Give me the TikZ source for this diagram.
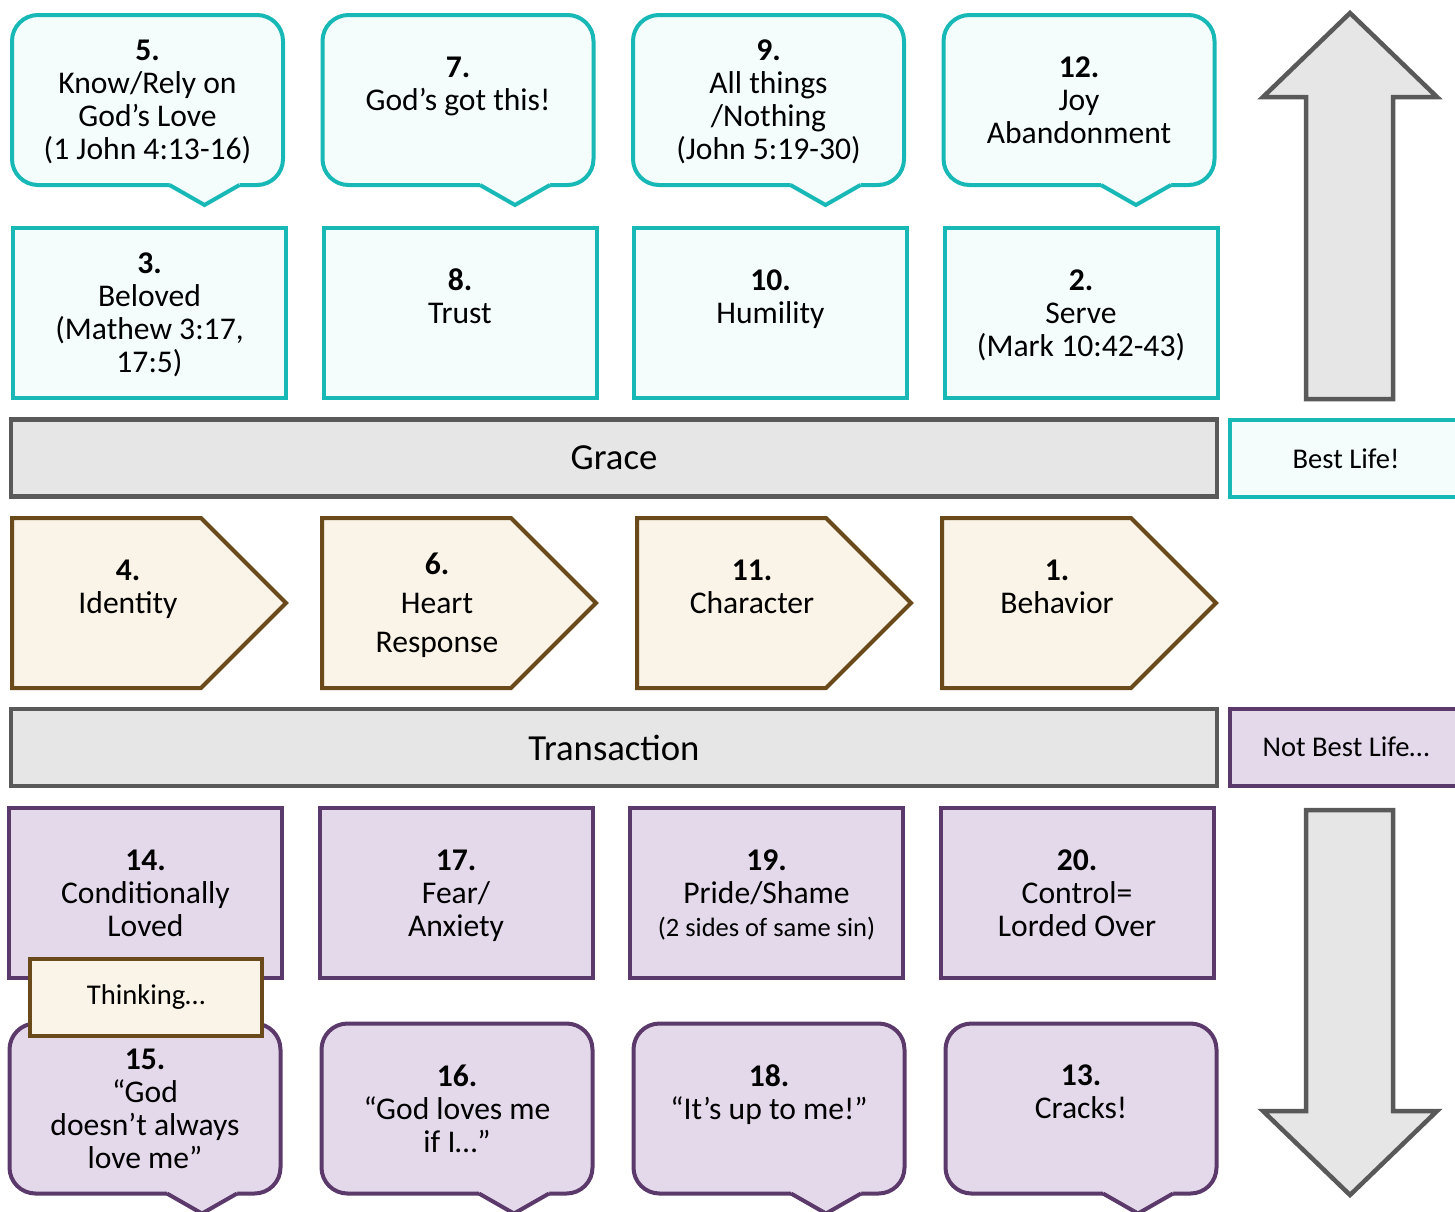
\documentclass[tikz,border=0pt]{standalone}
\usepackage{fontspec}
\setmainfont{Carlito}
\usetikzlibrary{positioning,calc,shapes.symbols}

\definecolor{tealline}{HTML}{17B8B5}
\definecolor{tealfill}{HTML}{F4FCFC}
\definecolor{plumline}{HTML}{5B3A6B}
\definecolor{plumfill}{HTML}{E4D9EB}
\definecolor{brownline}{HTML}{6A4A1A}
\definecolor{brownfill}{HTML}{FAF3E7}
\definecolor{greyline}{HTML}{595959}
\definecolor{greyfill}{HTML}{E6E6E6}

\newcommand{\boxfont}{\fontsize{31.6}{33}\selectfont}
\newcommand{\barfont}{\fontsize{36.7}{40}\selectfont}
\newcommand{\tagfont}{\fontsize{28.6}{32}\selectfont}
\newcommand{\notefont}{\fontsize{26.5}{30}\selectfont}
\newcommand{\ls}{\rule[-9pt]{0pt}{38pt}}

% pointer under a speech bubble
\newcommand{\bubbletail}[3]{%
  \fill[#3] ($(#1.south)+(22,-3)$) -- ($(#1.south)+(22,0)$) -- ($(#1.south)+(57,20)$) -- ($(#1.south)+(92,0)$) -- ($(#1.south)+(92,-3)$) -- cycle;
  \draw[#2, line width=4pt, line join=miter] ($(#1.south)+(22,0)$) -- ($(#1.south)+(57,20)$) -- ($(#1.south)+(92,0)$);
}

\begin{document}
\begin{tikzpicture}[x=1pt, y=-1pt, node distance=310.5pt,
  txt/.style={align=center, font=\boxfont, inner sep=0pt, execute at begin node=\ls, text depth=-1pt},
  tealbubble/.style={draw=tealline, fill=tealfill, line width=4pt, rounded corners=26pt, minimum width=271pt, minimum height=170pt, inner sep=0pt, outer sep=0pt, align=center, font=\boxfont, execute at begin node=\ls, text depth=-1pt},
  plumbubble/.style={tealbubble, draw=plumline, fill=plumfill},
  tealbox/.style={draw=tealline, fill=tealfill, line width=4pt, minimum width=273pt, minimum height=170pt, inner sep=0pt, outer sep=0pt, align=center, font=\boxfont, execute at begin node=\ls, text depth=-1pt},
  plumbox/.style={tealbox, draw=plumline, fill=plumfill},
  pent/.style={shape=signal, signal to=east, signal pointer angle=90, draw=brownline, fill=brownfill, line width=4pt, minimum width=274pt, minimum height=170pt, inner sep=0pt, outer sep=0pt},
  bar/.style={draw=greyline, fill=greyfill, line width=4.5pt, minimum width=1206pt, minimum height=77pt, inner sep=0pt, font=\barfont},
  tealtag/.style={draw=tealline, fill=tealfill, line width=4pt, minimum width=232pt, minimum height=77pt, inner sep=0pt, font=\tagfont},
  plumtag/.style={tealtag, draw=plumline, fill=plumfill},
  browntag/.style={tealtag, draw=brownline, fill=brownfill},
  bigarrow/.style={draw=greyline, fill=greyfill, line width=4.5pt, line join=miter}]
\useasboundingbox (0,0) rectangle (1455,1211);

% top row: bubbles
\node[tealbubble] (c5) at (147.5,100) {\textbf{5.}\\Know/Rely on\\God’s Love\\(1 John 4:13-16)};
\node[tealbubble] (c7) [right of=c5] {\textbf{7.}\\God’s got this!\\\mbox{}};
\node[tealbubble] (c9) [right of=c7] {\textbf{9.}\\All things\\/Nothing\\(John 5:19-30)};
\node[tealbubble] (c12) [right of=c9] {\textbf{12.}\\Joy\\Abandonment};
\foreach \c in {c5,c7,c9,c12} {\bubbletail{\c}{tealline}{tealfill}}

\node[tealbox] (b3) at (149.5,313) {\textbf{3.}\\Beloved\\(Mathew 3:17,\\17:5)};
\node[tealbox] (b8) [right of=b3] {\textbf{8.}\\Trust\\\mbox{}};
\node[tealbox] (b10) [right of=b8] {\textbf{10.}\\Humility\\\mbox{}};
\node[tealbox] (b2) [right of=b10] {\textbf{2.}\\Serve\\(Mark 10:42-43)};

\node[bar] (grace) at (614,458) {Grace};
\node[tealtag] (best) at (1346,458.5) {Best Life!};

% middle row
\node[pent, anchor=west] (p4) at (12,603) {};
\node[pent, anchor=west] (p6) at (322,603) {};
\node[pent, anchor=west] (p11) at (637,603) {};
\node[pent, anchor=west] (p1) at (942,603) {};
\node[txt] (t4) at ($(p4.west)+(116,0)$) {\textbf{4.}\\Identity\\\mbox{}};
\node[txt, font=\fontsize{31.6}{39}\selectfont] (t6) at ($(p6.west)+(115,0)$) {\textbf{6.}\\Heart\\Response};
\node[txt] (t11) at ($(p11.west)+(115,0)$) {\textbf{11.}\\Character\\\mbox{}};
\node[txt] (t1) at ($(p1.west)+(115,0)$) {\textbf{1.}\\Behavior\\\mbox{}};

\node[bar] (trans) at (614,747.5) {Transaction};
\node[plumtag] (notbest) at (1346,747) {Not Best Life…};

% bottom rows
\node[plumbox] (r14) at (145.5,893) {\textbf{14.}\\Conditionally\\Loved};
\node[plumbox] (r17) [right of=r14] {\textbf{17.}\\Fear/\\Anxiety};
\node[plumbox] (r19) [right of=r17] {\textbf{19.}\\Pride/Shame\\{\notefont (2 sides of same sin)}};
\node[plumbox] (r20) [right of=r19] {\textbf{20.}\\Control=\\Lorded Over};

\node[plumbubble] (c15) at (145,1108.5) {\textbf{15.}\\“God\\doesn’t always\\love me”};
\node[plumbubble] (c16) [node distance=312pt, right of=c15] {\textbf{16.}\\“God loves me\\if I…”};
\node[plumbubble] (c18) [node distance=312pt, right of=c16] {\textbf{18.}\\“It’s up to me!”\\\mbox{}};
\node[plumbubble] (c13) [node distance=312pt, right of=c18] {\textbf{13.}\\Cracks!\\\mbox{}};
\foreach \c in {c15,c16,c18,c13} {\bubbletail{\c}{plumline}{plumfill}}

\node[browntag] (think) at (146,997) {Thinking…};

% side arrows
\draw[bigarrow] (1306,399) -- (1306,97) -- (1263,97) -- (1350,13) -- (1437,97) -- (1393,97) -- (1393,399) -- cycle;
\draw[bigarrow] (1306,810) -- (1306,1111) -- (1263,1111) -- (1350,1195) -- (1437,1111) -- (1393,1111) -- (1393,810) -- cycle;
\end{tikzpicture}
\end{document}
